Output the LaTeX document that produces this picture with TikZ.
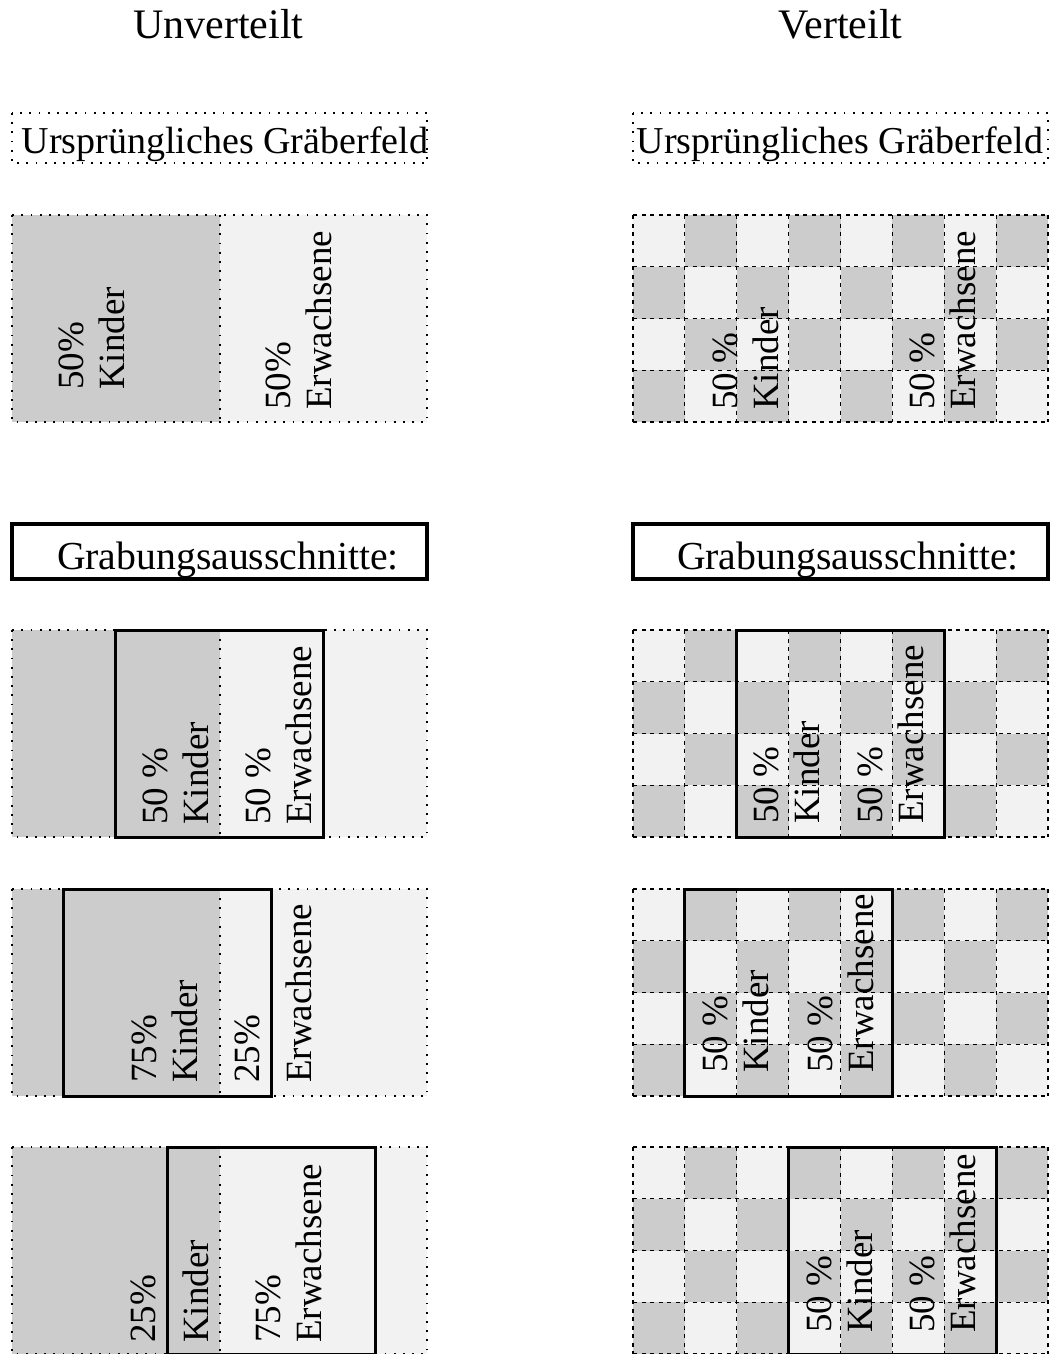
\documentclass[tikz,border=0pt]{standalone}
\usepackage{fontspec}
\setmainfont{Liberation Serif}
\definecolor{dk}{gray}{0.8}
\definecolor{lt}{gray}{0.95}
\tikzset{
  dotline/.style={line width=2pt, dash pattern=on 1.8pt off 7.4pt},
  dashline/.style={line width=1.2pt, dash pattern=on 4pt off 4.5pt},
  window/.style={line width=3pt, draw=black},
  titlebox/.style={line width=3.2pt, draw=black},
  rlabel/.style={rotate=90, anchor=west, inner sep=0pt, align=left, font=\fontsize{37}{41}\selectfont},
  head/.style={anchor=base, inner sep=0pt, font=\fontsize{42}{46}\selectfont},
  grab/.style={anchor=base, inner sep=0pt, font=\fontsize{39.7}{44}\selectfont},
  boxtext/.style={anchor=base, inner sep=0pt, font=\fontsize{38}{42}\selectfont},
}
\newcommand\lpanel[1]{%
  \fill[dk] (12,#1) rectangle (219.5,#1+207);
  \fill[lt] (219.5,#1) rectangle (427,#1+207);
  \draw[dotline] (12,#1) rectangle (427,#1+207);
  \draw[dotline] (219.5,#1) -- (219.5,#1+207);
}
\newcommand\rpanel[1]{%
  \foreach \i in {0,...,7}{\foreach \j in {0,...,3}{%
    \pgfmathtruncatemacro\cpar{mod(\i+\j,2)}%
    \ifnum\cpar=1 \def\cc{dk}\else\def\cc{lt}\fi
    \fill[\cc] (633+\i*51.875,#1+\j*51.75) rectangle ++(51.875,51.75);
  }}
  \foreach \i in {0,...,8}{\draw[dashline] (633+\i*51.875,#1) -- ++(0,207);}
  \foreach \j in {0,...,4}{\draw[dashline] (633,#1+\j*51.75) -- ++(415,0);}
}
\begin{document}
\begin{tikzpicture}[x=1pt,y=-1pt]
\useasboundingbox (0,0) rectangle (1052,1354);
% headers
\node[head] (hU) at (218.5,38) {Unverteilt};
\node[head] (hV) at (840.5,38) {Verteilt};
% original cemetery boxes
\draw[dotline] (12,113) rectangle (427,163);
\node[boxtext] (oL) at (225,153) {Ursprüngliches Gräberfeld};
\draw[dotline] (633,113) rectangle (1048,163);
\node[boxtext] (oR) at (840,153) {Ursprüngliches Gräberfeld};
% panels
\lpanel{215}
\rpanel{215}
\node[rlabel] (a1) at (92,390) {50\%\\Kinder};
\node[rlabel] (a2) at (299,410) {50\%\\Erwachsene};
\node[rlabel] (b1) at (746,410) {50 \%\\Kinder};
\node[rlabel] (b2) at (943,410) {50 \%\\Erwachsene};
% Grabungsausschnitte
\draw[titlebox] (12,524) rectangle (427,579);
\node[grab] (gL) at (228,569) {Grabungsausschnitte:};
\draw[titlebox] (633,524) rectangle (1048,579);
\node[grab] (gR) at (848,569) {Grabungsausschnitte:};
% row 2
\lpanel{630}
\rpanel{630}
\draw[window] (115.75,630) rectangle (323.25,837);
\draw[window] (736.75,630) rectangle (944.25,837);
\node[rlabel] (c1) at (176,825) {50 \%\\Kinder};
\node[rlabel] (c2) at (279,825) {50 \%\\Erwachsene};
\node[rlabel] (d1) at (787,824) {50 \%\\Kinder};
\node[rlabel] (d2) at (891,824) {50 \%\\Erwachsene};
% row 3
\lpanel{889}
\rpanel{889}
\draw[window] (63.875,889) rectangle (271.375,1096);
\draw[window] (684.875,889) rectangle (892.375,1096);
\node[rlabel] (e1) at (165,1083) {75\%\\Kinder};
\node[rlabel] (e2) at (247,1083) {25\%};
\node[rlabel] (e3) at (299,1083) {Erwachsene};
\node[rlabel] (f1) at (736,1073) {50 \%\\Kinder};
\node[rlabel] (f2) at (841,1073) {50 \%\\Erwachsene};
% row 4
\lpanel{1147}
\rpanel{1147}
\draw[window] (167.625,1147) rectangle (375.125,1354);
\draw[window] (788.625,1147) rectangle (996.125,1354);
\node[rlabel] (g1) at (143,1343) {25\%};
\node[rlabel] (g2) at (196,1343) {Kinder};
\node[rlabel] (g3) at (289,1343) {75\%\\Erwachsene};
\node[rlabel] (h1) at (840,1333) {50 \%\\Kinder};
\node[rlabel] (h2) at (943,1333) {50 \%\\Erwachsene};
\end{tikzpicture}
\end{document}
